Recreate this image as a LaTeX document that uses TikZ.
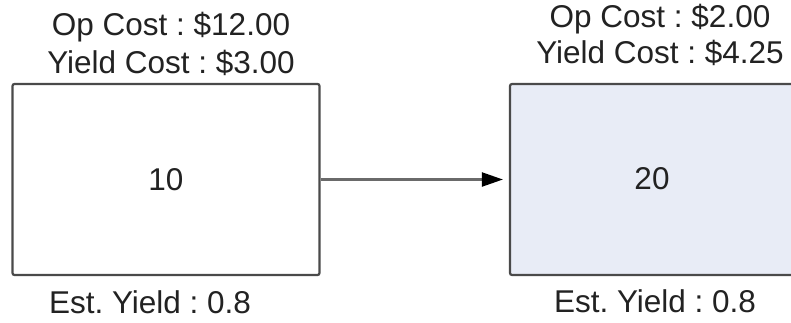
\documentclass[tikz,border=0pt]{standalone}
\usepackage{fontspec}
\setmainfont{Liberation Sans}
\usetikzlibrary{arrows.meta}
\definecolor{boxline}{HTML}{4A4A4A}
\definecolor{arrline}{HTML}{6A6A6A}
\definecolor{boxfill}{HTML}{E8ECF6}
\definecolor{txt}{HTML}{222222}
\begin{document}
\frenchspacing
\begin{tikzpicture}[x=1pt,y=-1pt,
  opbox/.style={draw=boxline,line width=2.2pt,rounded corners=2pt,inner sep=0pt,
    font=\fontsize{31.5}{38}\selectfont\frenchspacing,text=txt},
  lbl/.style={anchor=base,inner sep=0pt,font=\fontsize{31.5}{38}\selectfont\frenchspacing,text=txt},
  conn/.style={draw=arrline,line width=2.2pt,-{Triangle[length=21pt,width=14pt,color=black]}}]
\clip (0,0) rectangle (791,322);
\fill[white] (0,0) rectangle (791,322);
\node[opbox,fill=white,minimum width=307pt,minimum height=191pt] (b10) at (166,179.5) {10};
\node[opbox,fill=boxfill,minimum width=287pt,minimum height=191pt] (b20) at (653.5,179.5) {};
\node[lbl] (n20) at (652,189) {20};
\node[lbl] (op1) at (171,35) {Op Cost : \$12.00};
\node[lbl] (yc1) at (171,73) {Yield Cost : \$3.00};
\node[lbl] (ey1) at (150,313) {Est. Yield : 0.8};
\node[lbl] (op2) at (660,27) {Op Cost : \$2.00};
\node[lbl] (yc2) at (660,63) {Yield Cost : \$4.25};
\node[lbl] (ey2) at (655,312) {Est. Yield : 0.8};
\draw[conn,shorten >=6pt] (b10.east) -- (b10.east -| b20.west);
\end{tikzpicture}
\end{document}
